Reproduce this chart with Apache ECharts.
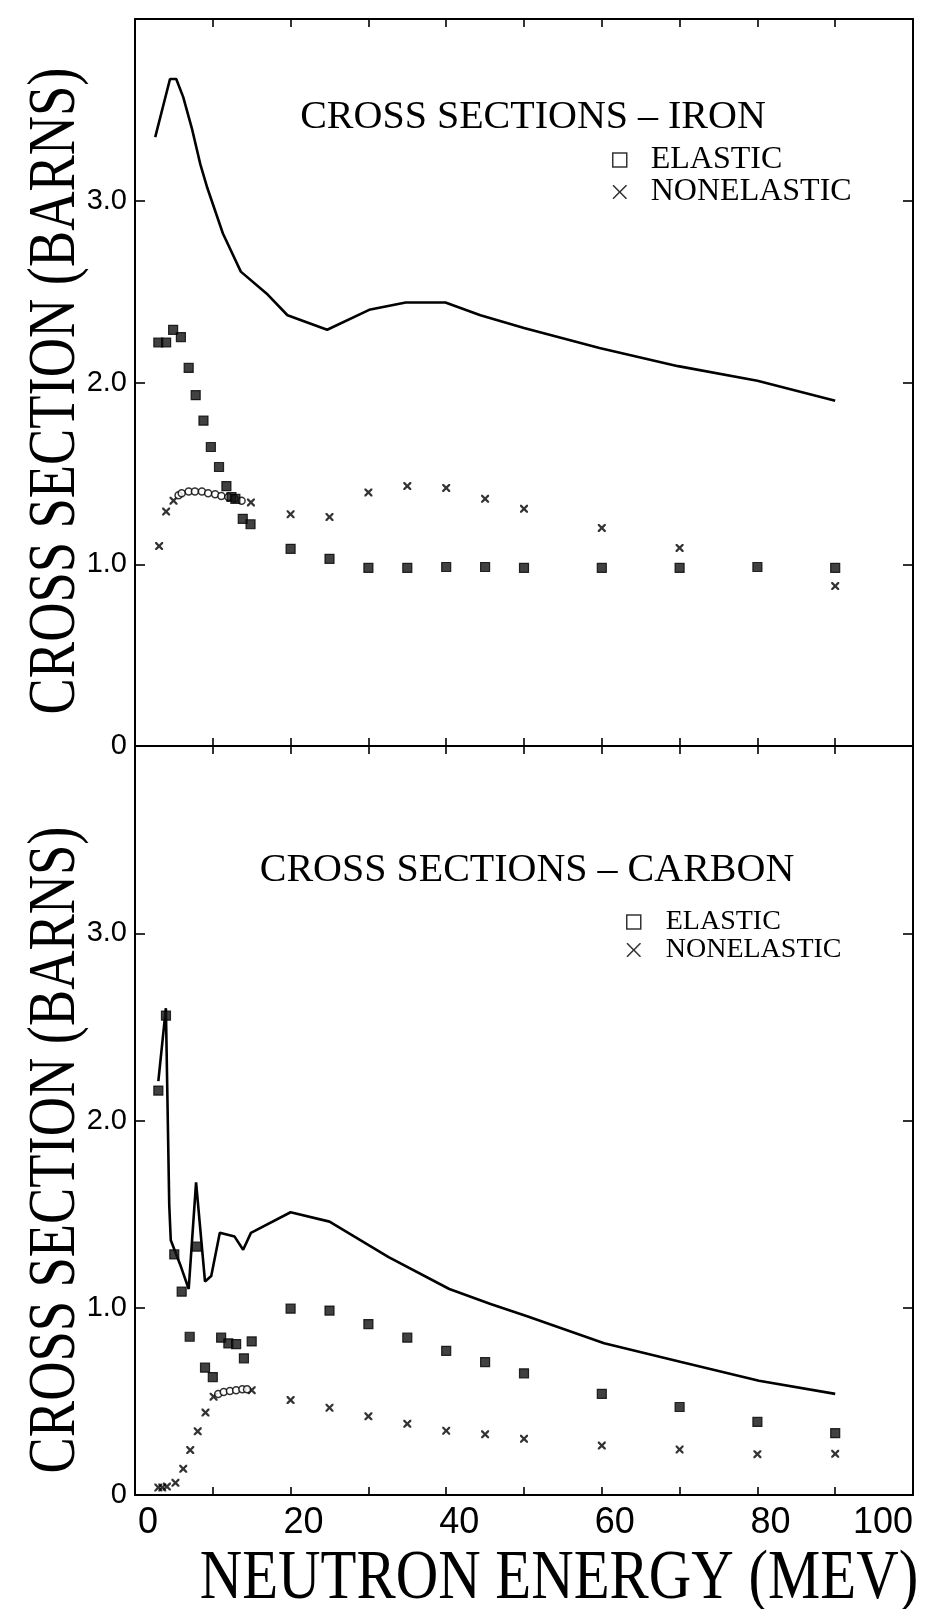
<!DOCTYPE html>
<html>
<head>
<meta charset="utf-8">
<script src="https://cdn.jsdelivr.net/npm/echarts@6/dist/echarts.min.js"></script>
<style>
  html, body { margin: 0; padding: 0; background: #fff; }
  #chart { width: 936px; height: 1609px; }
</style>
</head>
<body>
<div id="chart"></div>
<script>
// ---- Data (energy in MeV, cross section in barns) ----
const xTickValues = [0, 20, 40, 60, 80, 100];
const yTickLabels = ['0', '1.0', '2.0', '3.0'];

// IRON
const ironTotal = [[2.6,3.35],[4.5,3.67],[5.3,3.67],[6.2,3.57],[7.3,3.40],[8.4,3.20],[9.3,3.07],[11.3,2.82],[13.6,2.61],[16.9,2.49],[19.6,2.37],[24.7,2.29],[30.1,2.40],[34.8,2.44],[39.9,2.44],[44.4,2.37],[50,2.30],[59.7,2.19],[69.8,2.09],[80,2.01],[90,1.90]];
const ironElastic = [[3.0,2.22],[4.0,2.22],[4.9,2.29],[5.9,2.25],[6.9,2.08],[7.8,1.93],[8.8,1.79],[9.75,1.645],[10.8,1.535],[11.75,1.43],[12.4,1.37],[12.9,1.36],[13.85,1.25],[14.85,1.22],[20,1.085],[25,1.03],[30,0.98],[35,0.98],[40,0.985],[45,0.985],[50,0.98],[60,0.98],[70,0.98],[80,0.985],[90,0.98]];
const ironNonelastic = [[3.1,1.10],[4.0,1.29],[4.95,1.35],[14.9,1.34],[20,1.275],[25,1.26],[30,1.395],[35,1.43],[40,1.42],[45,1.36],[50,1.305],[60,1.20],[70,1.09],[90,0.88]];
const ironNonelasticFine = [[5.6,1.38],[6.0,1.39],[6.9,1.40],[7.7,1.40],[8.6,1.40],[9.4,1.39],[10.3,1.385],[11.1,1.375],[12.0,1.37],[12.8,1.36],[13.7,1.35]];

// CARBON
const carbonTotal = [[3.0,2.21],[3.97,2.60],[4.4,1.55],[4.6,1.36],[5.9,1.22],[6.9,1.10],[7.85,1.67],[9.0,1.14],[9.8,1.17],[10.9,1.40],[12.8,1.38],[13.9,1.31],[14.9,1.40],[20.0,1.51],[25.0,1.46],[32.6,1.27],[40.4,1.10],[45.7,1.02],[50.4,0.955],[60.3,0.81],[70.2,0.71],[80.2,0.61],[90.0,0.54]];
const carbonElastic = [[3.0,2.16],[3.98,2.56],[5.05,1.285],[6.0,1.086],[7.03,0.845],[7.94,1.326],[9.0,0.68],[10.0,0.63],[11.07,0.84],[12.0,0.81],[13.0,0.806],[14.0,0.73],[15.0,0.82],[20,0.995],[25,0.985],[30,0.913],[35,0.84],[40,0.77],[45,0.71],[50,0.65],[60,0.54],[70,0.47],[80,0.39],[90,0.33]];
const carbonNonelastic = [[3.0,0.04],[3.5,0.04],[4.1,0.045],[5.2,0.065],[6.2,0.14],[7.1,0.24],[8.06,0.34],[9.06,0.44],[10.1,0.525],[15.0,0.56],[20,0.507],[25,0.466],[30,0.42],[35,0.38],[40,0.343],[45,0.324],[50,0.30],[60,0.264],[70,0.243],[80,0.218],[90,0.22]];
const carbonNonelasticFine = [[10.7,0.54],[11.4,0.55],[12.2,0.555],[13.0,0.56],[13.8,0.565],[14.4,0.565]];

const titleIron = 'CROSS SECTIONS \u2013 IRON';
const titleCarbon = 'CROSS SECTIONS \u2013 CARBON';
const yTitle = 'CROSS SECTION (BARNS)';
const xTitle = 'NEUTRON ENERGY (MEV)';

// ---- Styling helpers ----
const INK = '#000';
const SERIF = '"Liberation Serif", "DejaVu Serif", serif';
const X_MARK = 'path://M0,0 L4,0 L10,6 L16,0 L20,0 L20,4 L14,10 L20,16 L20,20 L16,20 L10,14 L4,20 L0,20 L0,16 L6,10 L0,4 Z';
const X_ICON = 'path://M0,0 L1.6,0 L10,8.4 L18.4,0 L20,0 L20,1.6 L11.6,10 L20,18.4 L20,20 L18.4,20 L10,11.6 L1.6,20 L0,20 L0,18.4 L8.4,10 L0,1.6 Z';

function xAxisDef(grid, pos, labels) {
  return {
    type: 'value', gridIndex: grid, position: pos, min: 0, max: 100, interval: 10,
    axisLine: { show: true, onZero: false, lineStyle: { color: INK, width: 2 } },
    axisTick: { show: true, inside: true, length: 8, lineStyle: { color: INK, width: 1.6 } },
    splitLine: { show: false },
    axisLabel: labels ? {
      show: true, color: INK, fontSize: 36, margin: 10, padding: [0, 0, 0, 26],
      alignMaxLabel: 'right',
      fontFamily: '"Liberation Sans Narrow", "Liberation Sans", sans-serif',
      formatter: v => xTickValues.indexOf(v) >= 0 ? String(v) : ''
    } : { show: false }
  };
}
function yAxisDef(grid, pos, labels) {
  return {
    type: 'value', gridIndex: grid, position: pos, min: 0, max: 4, interval: 1,
    axisLine: { show: true, onZero: false, lineStyle: { color: INK, width: 2 } },
    axisTick: { show: true, inside: true, length: 10, lineStyle: { color: INK, width: 1.6 } },
    splitLine: { show: false },
    axisLabel: labels ? {
      show: true, color: INK, fontSize: 29, margin: 8,
      fontFamily: '"Liberation Sans", sans-serif',
      formatter: v => (v >= 0 && v < yTickLabels.length && Number.isInteger(v)) ? yTickLabels[v] : ''
    } : { show: false }
  };
}

function totalSeries(name, data, xi, yi) {
  return { name: name, type: 'line', data: data, xAxisIndex: xi, yAxisIndex: yi,
    symbol: 'none', lineStyle: { color: INK, width: 2.6 }, z: 3, silent: true };
}
function elasticSeries(data, xi, yi) {
  return { name: 'ELASTIC', type: 'scatter', data: data, xAxisIndex: xi, yAxisIndex: yi,
    symbol: 'rect', symbolSize: 9,
    itemStyle: { color: '#111', borderColor: INK, borderWidth: 1.2 }, z: 5 };
}
function nonelasticSeries(data, xi, yi) {
  return { name: 'NONELASTIC', type: 'scatter', data: data, xAxisIndex: xi, yAxisIndex: yi,
    symbol: X_MARK, symbolSize: 8, itemStyle: { color: INK }, z: 4 };
}
function fineSeries(name, data, xi, yi) {
  return { name: name, type: 'scatter', data: data, xAxisIndex: xi, yAxisIndex: yi,
    symbol: 'circle', symbolSize: 7,
    itemStyle: { color: '#fff', borderColor: INK, borderWidth: 1.5 }, z: 4 };
}
function legendDef(left, top, fontSize, gap, textPad) {
  return {
    orient: 'vertical', left: left, top: top, itemWidth: 14, itemHeight: 14, itemGap: gap,
    selectedMode: false, padding: 0,
    textStyle: { fontFamily: SERIF, fontSize: fontSize, color: INK, padding: [0, 0, 0, textPad] },
    data: [
      { name: 'ELASTIC', icon: 'rect', itemStyle: { color: '#fff', borderColor: INK, borderWidth: 1.5 } },
      { name: 'NONELASTIC', icon: X_ICON, itemStyle: { color: INK, borderWidth: 0 } }
    ]
  };
}
function titleText(text, x, y, size, scaleX, rotation) {
  return { type: 'text', x: x, y: y, rotation: rotation, scaleX: scaleX, scaleY: 1,
    style: { text: text, font: size + 'px ' + SERIF, fill: INK,
      align: 'center', verticalAlign: 'middle', textAlign: 'center', textVerticalAlign: 'middle' } };
}

const chart = echarts.init(document.getElementById('chart'), null, { renderer: 'canvas' });
chart.setOption({
  backgroundColor: '#fff',
  animation: false,
  title: [
    { text: titleIron, left: 533, top: 97, textAlign: 'center', padding: 0,
      textStyle: { fontFamily: SERIF, fontSize: 40, fontWeight: 'normal', color: INK } },
    { text: titleCarbon, left: 527, top: 850, textAlign: 'center', padding: 0,
      textStyle: { fontFamily: SERIF, fontSize: 40, fontWeight: 'normal', color: INK } }
  ],
  legend: [ legendDef(612, 144, 32, 0, 19), legendDef(626, 908, 28, 0, 20) ],
  grid: [
    { left: 135, right: 23, top: 19, height: 727, containLabel: false, outerBoundsMode: 'none' },
    { left: 135, right: 23, top: 746, height: 749, containLabel: false, outerBoundsMode: 'none' }
  ],
  xAxis: [ xAxisDef(0, 'bottom', false), xAxisDef(0, 'top', false), xAxisDef(1, 'top', false), xAxisDef(1, 'bottom', true) ],
  yAxis: [ yAxisDef(0, 'left', true), yAxisDef(0, 'right', false), yAxisDef(1, 'left', true), yAxisDef(1, 'right', false) ],
  graphic: [
    titleText(yTitle, 56, 391, 68, 0.8, Math.PI / 2),
    titleText(yTitle, 56, 1150, 68, 0.8, Math.PI / 2),
    titleText(xTitle, 559, 1580, 70, 0.84, 0)
  ],
  series: [
    totalSeries('TOTAL IRON', ironTotal, 0, 0),
    elasticSeries(ironElastic, 0, 0),
    nonelasticSeries(ironNonelastic, 0, 0),
    fineSeries('NONELASTIC IRON FINE', ironNonelasticFine, 0, 0),
    totalSeries('TOTAL CARBON', carbonTotal, 3, 2),
    elasticSeries(carbonElastic, 3, 2),
    nonelasticSeries(carbonNonelastic, 3, 2),
    fineSeries('NONELASTIC CARBON FINE', carbonNonelasticFine, 3, 2)
  ]
});
</script>
</body>
</html>
